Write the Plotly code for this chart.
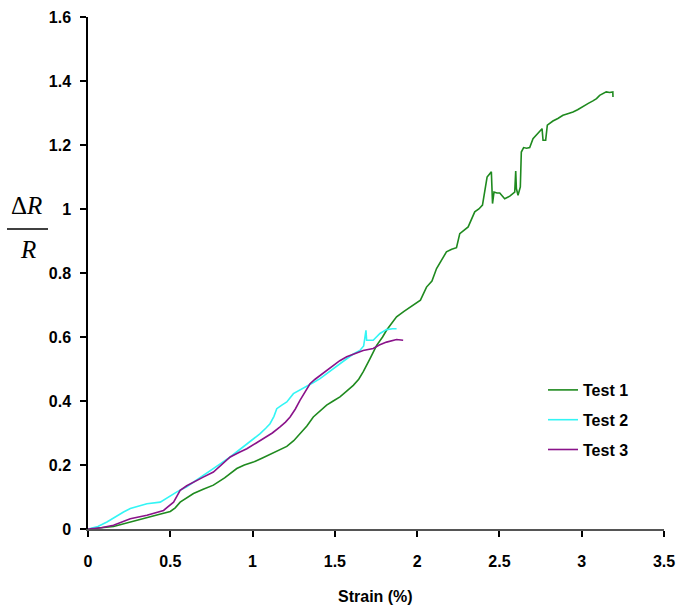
import plotly.graph_objects as go

# Test 1 (green)
t1_x = [0.0, 0.014, 0.08, 0.155, 0.25, 0.358, 0.43, 0.5, 0.53, 0.56, 0.6, 0.641, 0.70, 0.762, 0.83, 0.904,
        0.95, 1.005, 1.06, 1.106, 1.16, 1.208, 1.25, 1.288, 1.33, 1.369, 1.41, 1.45, 1.49, 1.531, 1.57,
        1.612, 1.645, 1.672, 1.713, 1.754, 1.79, 1.814, 1.85, 1.875, 1.92, 1.976, 2.02, 2.057, 2.09, 2.118,
        2.15, 2.178, 2.21, 2.239, 2.259, 2.285, 2.31, 2.35, 2.375, 2.397, 2.41, 2.425, 2.451, 2.455, 2.458,
        2.467, 2.485, 2.502, 2.532, 2.563, 2.593, 2.599, 2.603, 2.613, 2.627, 2.633, 2.647, 2.665, 2.684,
        2.704, 2.725, 2.745, 2.759, 2.765, 2.781, 2.791, 2.825, 2.855, 2.886, 2.915, 2.947, 2.975, 3.007,
        3.04, 3.068, 3.09, 3.109, 3.13, 3.149, 3.17, 3.189, 3.19]
t1_y = [0.0, 0.001, 0.004, 0.008, 0.02, 0.036, 0.045, 0.055, 0.066, 0.084, 0.098, 0.111, 0.124, 0.137, 0.16,
        0.189, 0.2, 0.209, 0.222, 0.233, 0.246, 0.258, 0.276, 0.298, 0.322, 0.35, 0.37, 0.387, 0.4, 0.413,
        0.43, 0.449, 0.468, 0.491, 0.532, 0.574, 0.6, 0.621, 0.646, 0.663, 0.68, 0.699, 0.715, 0.756, 0.775,
        0.814, 0.84, 0.866, 0.874, 0.879, 0.923, 0.935, 0.944, 0.991, 1.0, 1.012, 1.06, 1.1, 1.116, 1.07,
        1.017, 1.053, 1.05, 1.05, 1.032, 1.04, 1.053, 1.119, 1.064, 1.043, 1.069, 1.178, 1.192, 1.19,
        1.192, 1.22, 1.232, 1.241, 1.251, 1.215, 1.215, 1.262, 1.275, 1.283, 1.293, 1.298, 1.303, 1.31,
        1.321, 1.33, 1.338, 1.345, 1.355, 1.362, 1.366, 1.364, 1.366, 1.35]

# Test 2 (cyan)
t2_x = [0.0, 0.06, 0.115, 0.17, 0.216, 0.257, 0.31, 0.358, 0.439, 0.49, 0.54, 0.6, 0.641, 0.7, 0.762, 0.81,
        0.864, 0.92, 0.965, 1.0, 1.046, 1.08, 1.106, 1.13, 1.147, 1.18, 1.208, 1.248, 1.29, 1.329, 1.37,
        1.41, 1.45, 1.49, 1.53, 1.572, 1.61, 1.652, 1.675, 1.689, 1.693, 1.733, 1.774, 1.814, 1.85, 1.875]
t2_y = [0.0, 0.008, 0.022, 0.04, 0.053, 0.064, 0.072, 0.079, 0.084, 0.1, 0.116, 0.132, 0.147, 0.168, 0.189,
        0.206, 0.225, 0.248, 0.267, 0.28, 0.298, 0.315, 0.329, 0.352, 0.376, 0.388, 0.397, 0.423, 0.435,
        0.444, 0.458, 0.47, 0.486, 0.501, 0.518, 0.532, 0.546, 0.558, 0.572, 0.621, 0.59, 0.59, 0.611,
        0.623, 0.626, 0.626]

# Test 3 (purple)
t3_x = [0.0, 0.08, 0.155, 0.257, 0.358, 0.459, 0.52, 0.56, 0.6, 0.641, 0.7, 0.762, 0.81, 0.864, 0.92, 0.965,
        1.02, 1.066, 1.12, 1.167, 1.2, 1.228, 1.26, 1.288, 1.32, 1.349, 1.38, 1.41, 1.45, 1.49, 1.53, 1.572,
        1.62, 1.672, 1.733, 1.77, 1.814, 1.85, 1.875, 1.915]
t3_y = [0.0, 0.004, 0.012, 0.032, 0.043, 0.058, 0.084, 0.121, 0.135, 0.147, 0.162, 0.178, 0.2, 0.225, 0.24,
        0.251, 0.268, 0.283, 0.3, 0.319, 0.334, 0.35, 0.375, 0.402, 0.43, 0.454, 0.468, 0.48, 0.497, 0.512,
        0.526, 0.538, 0.548, 0.558, 0.564, 0.575, 0.584, 0.59, 0.592, 0.59]

x_ticks = [0, 0.5, 1, 1.5, 2, 2.5, 3, 3.5]
x_tick_labels = ["0", "0.5", "1", "1.5", "2", "2.5", "3", "3.5"]
y_ticks = [0, 0.2, 0.4, 0.6, 0.8, 1.0, 1.2, 1.4, 1.6]
y_tick_labels = ["0", "0.2", "0.4", "0.6", "0.8", "1", "1.2", "1.4", "1.6"]
x_title = "Strain (%)"

series = [
    ("Test 1", t1_x, t1_y, "#1f8a1f"),
    ("Test 2", t2_x, t2_y, "#33f5f5"),
    ("Test 3", t3_x, t3_y, "#8a138a"),
]

W, H = 677, 608
ML, MR, MT, MB = 88, 13, 17, 79
PW = W - ML - MR
PH = H - MT - MB

fig = go.Figure()
for i, (name, xs, ys, col) in enumerate(series):
    fig.add_trace(go.Scatter(x=xs, y=ys, mode="lines", name=name, legendgroup=f"g{i}",
                             line=dict(color=col, width=1.6)))

tick_font = dict(family="Liberation Sans, Arial, sans-serif", size=16, color="black", weight="bold")

fig.update_layout(
    width=W, height=H,
    margin=dict(l=ML, r=MR, t=MT, b=MB, autoexpand=False),
    plot_bgcolor="white", paper_bgcolor="white",
    showlegend=True,
    legend=dict(x=(543 - ML) / PW, xanchor="left", y=(529 - 373) / PH, yanchor="top",
                font=tick_font, bgcolor="rgba(0,0,0,0)", tracegroupgap=6),
    xaxis=dict(range=[0, 3.5], tickvals=x_ticks, ticktext=x_tick_labels, showgrid=False, zeroline=False,
               showline=True, linecolor="#555555", linewidth=2, ticks="outside", ticklen=6, tickwidth=1.5,
               tickcolor="black", tickfont=tick_font, ticklabelstandoff=11, ticklabeloverflow="allow",
               automargin=False),
    yaxis=dict(range=[0, 1.6], tickvals=y_ticks, ticktext=y_tick_labels, showgrid=False, zeroline=False,
               showline=True, linecolor="black", linewidth=1.5, ticks="outside", ticklen=6, tickwidth=1.5,
               tickcolor="black", tickfont=tick_font, ticklabelstandoff=6, ticklabeloverflow="allow",
               automargin=False),
)

serif = dict(family="Liberation Serif, Times New Roman, serif", size=25, color="black")
def px_x(p):
    return (p - ML) / PW
def px_y(p):
    return (H - MB - p) / PH

fig.add_annotation(xref="paper", yref="paper", x=px_x(375), y=px_y(596), text=x_title, showarrow=False,
                   font=tick_font, xanchor="center", yanchor="middle")
fig.add_annotation(xref="paper", yref="paper", x=px_x(26), y=px_y(205), text="Δ<i>R</i>", showarrow=False,
                   font=serif, xanchor="center", yanchor="middle")
fig.add_annotation(xref="paper", yref="paper", x=px_x(28), y=px_y(249), text="<i>R</i>", showarrow=False,
                   font=serif, xanchor="center", yanchor="middle")
fig.add_shape(type="line", xref="paper", yref="paper", x0=px_x(7), x1=px_x(48), y0=px_y(229), y1=px_y(229),
              line=dict(color="black", width=1.5))

fig.write_html("out.html")
